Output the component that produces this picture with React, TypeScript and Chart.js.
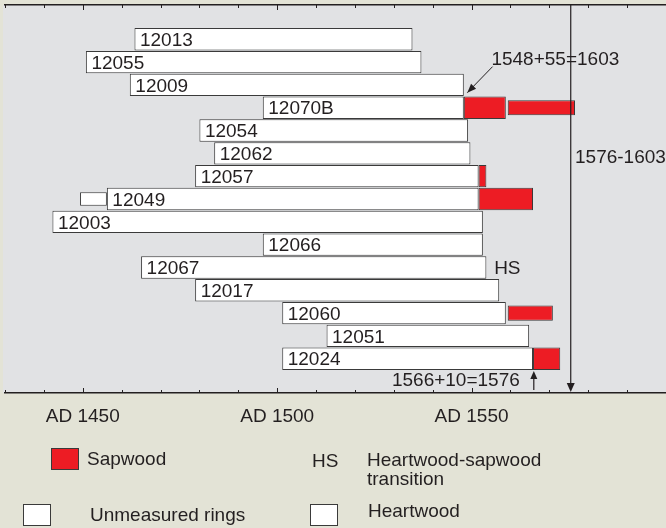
import React, { useEffect, useRef } from 'react';
import { Chart, registerables } from 'chart.js';

Chart.register(...registerables);

// ---------- data ----------
const samples = ['12013', '12055', '12009', '12070B', '12054', '12062', '12057', '12049', '12003', '12066', '12067', '12017', '12060', '12051', '12024'];
const heartStart = [1463.3, 1450.8, 1462.1, 1496.3, 1480.0, 1483.8, 1478.9, 1456.2, 1442.2, 1496.3, 1465.0, 1478.9, 1501.3, 1512.7, 1501.3];
const heartEnd = [1534.8, 1537.1, 1548.0, 1548.0, 1549.1, 1549.7, 1551.8, 1551.8, 1552.9, 1552.9, 1553.8, 1557.1, 1558.8, 1564.8, 1565.8];

// measured sapwood (full height)
const sapRows = ['12070B', '12057', '12049', '12024'];
const sapStart = [1548.0, 1551.8, 1551.8, 1565.8];
const sapEnd = [1558.8, 1553.8, 1565.8, 1572.8];

// estimated sapwood (thin)
const estRows = ['12070B', '12060'];
const estStart = [1559.3, 1559.3];
const estEnd = [1576.6, 1570.9];

// unmeasured rings (thin, white)
const unmRows = ['12049'];
const unmStart = [1449.3];
const unmEnd = [1456.2];

// axis
const xMin = 1430;
const xMax = 1600;
const xStep = 10;
const tickYears = [1450, 1500, 1550];
const yMin = -1.5;
const yMax = 15.5;

// annotations (year, row units)
const fellingYear = 1575.5;
const fellingLabel = '1576-1603';
const fellingLabelAt = [1576.6, 5.15];
const note1 = '1548+55=1603';
const note1At = [1555.1, 0.84];
const note1Arrow = [1555.4, 1.2, 1548.9, 2.34];
const note2 = '1566+10=1576';
const note2At = [1562.4, 14.93];
const note2Arrow = [1566.0, 15.37, 1566.0, 14.54];
const hsLabel = 'HS';
const hsAt = [1555.8, 10];

// legend
const legendSap = 'Sapwood';
const legendHS = 'HS';
const legendHSText = ['Heartwood-sapwood', 'transition'];
const legendUnm = 'Unmeasured rings';
const legendHeart = 'Heartwood';

const INK = '#231f20';
const RED = '#ed1c24';
const EDGE = '#3a3a3a';
const PLOT_BG = '#e1e2e4';
const PAGE_BG = '#e3e3d6';
const FONT = '"Liberation Sans", Arial, Helvetica, sans-serif';

const rowOf = (name: string) => samples.indexOf(name);

function arrowHead(ctx: CanvasRenderingContext2D, x1: number, y1: number, x2: number, y2: number, len: number, halfW: number) {
  const a = Math.atan2(y2 - y1, x2 - x1);
  const bx = x2 - len * Math.cos(a);
  const by = y2 - len * Math.sin(a);
  ctx.beginPath();
  ctx.moveTo(x2, y2);
  ctx.lineTo(bx + halfW * Math.sin(a), by - halfW * Math.cos(a));
  ctx.lineTo(bx - halfW * Math.sin(a), by + halfW * Math.cos(a));
  ctx.closePath();
  ctx.fill();
}

const dendroPlugin = {
  id: 'dendro',
  beforeDraw(chart: any) {
    const { ctx, chartArea: ca } = chart;
    ctx.save();
    ctx.fillStyle = PLOT_BG;
    ctx.fillRect(ca.left - 2, ca.top, ca.right - ca.left + 2, ca.bottom - ca.top);
    ctx.restore();
  },
  afterDatasetsDraw(chart: any) {
    const { ctx, chartArea: ca, scales } = chart;
    const xs = scales.x;
    const ys = scales.y;
    const px = (v: number) => xs.getPixelForValue(v);
    const py = (v: number) => ys.getPixelForValue(v);
    ctx.save();
    ctx.font = `19px ${FONT}`;
    ctx.fillStyle = INK;
    ctx.textBaseline = 'middle';

    // sample labels inside heartwood bars
    const idx = chart.data.datasets.findIndex((d: any) => d.label === 'Heartwood');
    const meta = chart.getDatasetMeta(idx);
    meta.data.forEach((bar: any, i: number) => {
      const left = Math.min(bar.x, bar.base);
      ctx.fillText(samples[i], left + 5.5, bar.y + 1.5);
    });

    // inward tick marks on top & bottom axis lines
    ctx.strokeStyle = INK;
    ctx.lineWidth = 1;
    xs.ticks.forEach((t: any) => {
      const x = Math.round(px(t.value)) + 0.5;
      const len = tickYears.includes(t.value) ? 5 : 3;
      ctx.beginPath();
      ctx.moveTo(x, ca.top);
      ctx.lineTo(x, ca.top + len);
      ctx.moveTo(x, ca.bottom);
      ctx.lineTo(x, ca.bottom - len);
      ctx.stroke();
    });

    // felling line
    const fx = px(fellingYear);
    ctx.lineWidth = 1.2;
    ctx.beginPath();
    ctx.moveTo(fx, ca.top);
    ctx.lineTo(fx, ca.bottom - 6);
    ctx.stroke();
    arrowHead(ctx, fx, ca.top, fx, ca.bottom - 1, 9, 4);
    ctx.textAlign = 'left';
    ctx.fillText(fellingLabel, px(fellingLabelAt[0]), py(fellingLabelAt[1]) + 1);

    // note 1 with arrow
    ctx.fillText(note1, px(note1At[0]), py(note1At[1]) + 1);
    {
      const [a, b, c, d] = note1Arrow;
      ctx.lineWidth = 1;
      ctx.beginPath();
      ctx.moveTo(px(a), py(b));
      ctx.lineTo(px(c), py(d));
      ctx.stroke();
      arrowHead(ctx, px(a), py(b), px(c), py(d), 9, 3.5);
    }

    // note 2 with up arrow
    ctx.textAlign = 'right';
    ctx.fillText(note2, px(note2At[0]), py(note2At[1]) + 1);
    {
      const [a, b, c, d] = note2Arrow;
      ctx.lineWidth = 1.2;
      ctx.beginPath();
      ctx.moveTo(px(a), py(b));
      ctx.lineTo(px(c), py(d) + 4);
      ctx.stroke();
      arrowHead(ctx, px(a), py(b), px(c), py(d), 8, 3.5);
    }

    // HS label
    ctx.textAlign = 'left';
    ctx.fillText(hsLabel, px(hsAt[0]), py(hsAt[1]) + 1.5);
    ctx.restore();
  },
  afterDraw(chart: any) {
    const { ctx } = chart;
    ctx.save();
    ctx.font = `19px ${FONT}`;
    ctx.fillStyle = INK;
    ctx.textBaseline = 'middle';
    ctx.textAlign = 'left';
    const box = (x: number, y: number, w: number, h: number, fill: string) => {
      ctx.fillStyle = fill;
      ctx.fillRect(x, y, w, h);
      ctx.strokeStyle = EDGE;
      ctx.lineWidth = 1;
      ctx.strokeRect(x + 0.5, y + 0.5, w - 1, h - 1);
      ctx.fillStyle = INK;
    };
    box(51, 448, 28, 22, RED);
    ctx.fillText(legendSap, 87, 460);
    ctx.fillText(legendHS, 312, 462);
    ctx.fillText(legendHSText[0], 367, 461);
    ctx.fillText(legendHSText[1], 367, 480);
    box(23, 504, 28, 22, '#ffffff');
    ctx.fillText(legendUnm, 90, 516);
    box(310, 504, 28, 22, '#ffffff');
    ctx.fillText(legendHeart, 368, 512);
    ctx.restore();
  },
};

export default function App() {
  const canvasRef = useRef<HTMLCanvasElement | null>(null);

  useEffect(() => {
    document.body.style.margin = '0';
    const canvas = canvasRef.current;
    if (!canvas) return;

    const heartData = samples.map((_, i) => ({ x: [heartStart[i], heartEnd[i]], y: i }));
    const sapData = sapRows.map((s, k) => ({ x: [sapStart[k], sapEnd[k]], y: rowOf(s) }));
    const estData = estRows.map((s, k) => ({ x: [estStart[k], estEnd[k]], y: rowOf(s) }));
    const unmData = unmRows.map((s, k) => ({ x: [unmStart[k], unmEnd[k]], y: rowOf(s) }));

    const common = {
      borderColor: EDGE,
      borderWidth: 1,
      borderSkipped: false,
      categoryPercentage: 1,
      grouped: false,
    };

    const noPad = (s: any, h: number) => {
      s.height = h;
      s.paddingLeft = 0;
      s.paddingRight = 0;
      s.paddingTop = 0;
      s.paddingBottom = 0;
    };

    const chart = new Chart(canvas, {
      type: 'bar',
      data: {
        datasets: [
          { ...common, label: 'Unmeasured rings', data: unmData as any, backgroundColor: '#ffffff', barPercentage: 0.6 },
          { ...common, label: 'Heartwood', data: heartData as any, backgroundColor: '#ffffff', barPercentage: 0.98 },
          { ...common, label: 'Sapwood', data: sapData as any, backgroundColor: RED, barPercentage: 0.98 },
          { ...common, label: 'Sapwood (estimated)', data: estData as any, backgroundColor: RED, barPercentage: 0.66 },
        ],
      },
      options: {
        indexAxis: 'y',
        responsive: false,
        animation: false,
        devicePixelRatio: 1,
        layout: { padding: { left: 5, right: 0, top: 0, bottom: 0 } },
        plugins: {
          legend: { display: false },
          tooltip: { enabled: false },
        },
        scales: {
          y: {
            type: 'linear',
            min: yMin,
            max: yMax,
            reverse: true,
            offset: false,
            display: false,
            afterBuildTicks: (s: any) => {
              s.ticks = samples.map((_, i) => ({ value: i }));
            },
          },
          x: {
            type: 'linear',
            position: 'bottom',
            min: xMin,
            max: xMax,
            beginAtZero: false,
            offset: false,
            grid: { display: false, drawTicks: false },
            border: { display: true, color: INK, width: 1.5 },
            ticks: {
              stepSize: xStep,
              autoSkip: false,
              maxRotation: 0,
              padding: 12,
              color: INK,
              font: { size: 19, family: FONT },
              callback: (v: any) => (tickYears.includes(Number(v)) ? 'AD ' + v : ''),
            },
            afterFit: (s: any) => noPad(s, 135),
          },
          x2: {
            type: 'linear',
            position: 'top',
            min: xMin,
            max: xMax,
            offset: false,
            grid: { display: false, drawTicks: false },
            border: { display: true, color: INK, width: 1.5 },
            ticks: { display: false, stepSize: xStep },
            afterFit: (s: any) => noPad(s, 5),
          },
        },
      } as any,
      plugins: [dendroPlugin],
    });

    return () => chart.destroy();
  }, []);

  return (
    <div style={{ width: 666, height: 528, background: PAGE_BG, overflow: 'hidden' }}>
      <canvas ref={canvasRef} width={666} height={528} style={{ display: 'block' }} />
    </div>
  );
}
